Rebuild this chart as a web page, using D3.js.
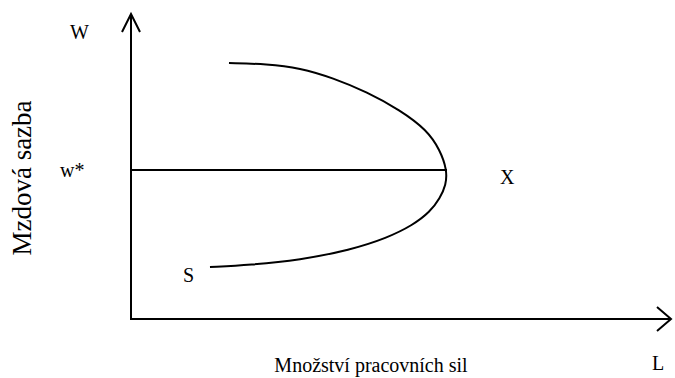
<!DOCTYPE html>
<html>
<head>
<meta charset="utf-8">
<script src="https://cdn.jsdelivr.net/npm/d3@7"></script>
<style>
  body { margin: 0; background: #fff; }
</style>
</head>
<body>
<script>
// labour supply curve (backward bending), L = quantity, W = wage
var curveL = [18.35, 25.47, 31.65, 37.83, 44.19, 50.37, 55.43, 57.87, 59.18, 58.99, 57.87, 55.99, 52.81, 47.94, 41.01, 31.65, 22.28, 14.79];
var curveW = [83.66, 83.33, 82.03, 78.76, 74.18, 68.30, 61.76, 55.23, 48.69, 43.79, 39.54, 34.97, 30.72, 26.47, 22.55, 19.28, 17.65, 16.99];
var wStar = 48.69;
var wStarEnd = 59.18;
var labels = { W: "W", wstar: "w*", X: "X", S: "S", L: "L" };
var xTitle = "Množství pracovních sil";
var yTitle = "Mzdová sazba";

var width = 675, height = 378;
var x0 = 131, y0 = 319;
var font = '"Liberation Serif", "Times New Roman", Times, serif';

var x = d3.scaleLinear().domain([0, 100]).range([x0, 665]);
var y = d3.scaleLinear().domain([0, 100]).range([y0, 13]);

var svg = d3.select('body')
  .append('svg')
    .attr('width', width)
    .attr('height', height);

var data = curveL.map(function(l, i) { return { L: l, W: curveW[i] } });

// axes
svg.append('line')
  .attr('x1', x0).attr('y1', y0 + 1)
  .attr('x2', x0).attr('y2', 14)
  .attr('stroke', '#000').attr('stroke-width', 2);
svg.append('path')
  .attr('d', 'M' + (x0 - 9) + ',32L' + x0 + ',14L' + (x0 + 9) + ',32')
  .attr('fill', 'none').attr('stroke', '#000').attr('stroke-width', 2);

svg.append('line')
  .attr('x1', x0 - 1).attr('y1', y0)
  .attr('x2', 671).attr('y2', y0)
  .attr('stroke', '#000').attr('stroke-width', 2);
svg.append('path')
  .attr('d', 'M657,' + (y0 - 12) + 'L671,' + y0 + 'L657,' + (y0 + 12))
  .attr('fill', 'none').attr('stroke', '#000').attr('stroke-width', 2);

// w* line
svg.append('line')
  .attr('x1', x(0)).attr('y1', y(wStar))
  .attr('x2', x(wStarEnd)).attr('y2', y(wStar))
  .attr('stroke', '#000').attr('stroke-width', 2);

var line = d3.line()
  .x(function(d) { return x(d.L) })
  .y(function(d) { return y(d.W) })
  .curve(d3.curveBasis);

svg.append('path')
  .data([data])
  .attr('d', line)
  .attr('fill', 'none')
  .attr('stroke', '#000')
  .attr('stroke-width', 2);

// labels
function label(px, py, t, s) {
  return svg.append('text')
    .attr('x', px).attr('y', py)
    .attr('font-family', font)
    .attr('font-size', s)
    .attr('fill', '#000')
    .text(t);
}
label(70, 39, labels.W, 20);
label(60, 177, labels.wstar, 20);
label(500, 184, labels.X, 20);
label(183, 282, labels.S, 20);
label(652, 370, labels.L, 20);

label(371, 372, xTitle, 20).attr('text-anchor', 'middle');
label(0, 0, yTitle, 27)
  .attr('transform', 'translate(31,178) rotate(-90)')
  .attr('text-anchor', 'middle');
</script>
</body>
</html>
